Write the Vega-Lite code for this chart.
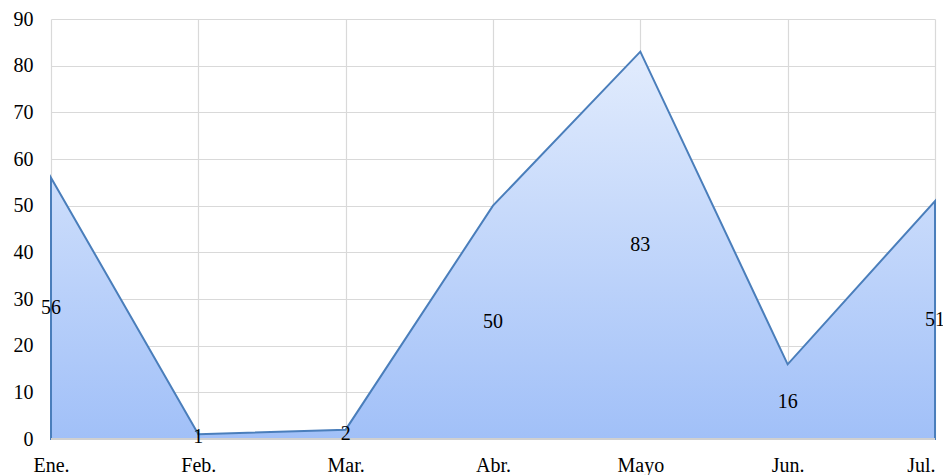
{
  "$schema": "https://vega.github.io/schema/vega-lite/v6.json",
  "autosize": "none",
  "width": 884,
  "height": 420,
  "padding": {"left": 51, "top": 19, "right": 8, "bottom": 36},
  "background": "white",
  "config": {
    "view": {"stroke": null},
    "font": "Times New Roman, Liberation Serif, serif",
    "axis": {"labelFont": "Times New Roman, Liberation Serif, serif", "labelFontSize": 20, "labelColor": "#000000", "gridColor": "#d9d9d9", "gridWidth": 1.2, "labelOverlap": false}
  },
  "data": {"values": [
    {"month": "Ene.", "value": 56},
    {"month": "Feb.", "value": 1},
    {"month": "Mar.", "value": 2},
    {"month": "Abr.", "value": 50},
    {"month": "Mayo", "value": 83},
    {"month": "Jun.", "value": 16},
    {"month": "Jul.", "value": 51}
  ]},
  "layer": [
    {
      "mark": {
        "type": "area",
        "stroke": "#4a7ebb",
        "strokeWidth": 2,
        "fill": {
          "gradient": "linear", "x1": 0, "y1": 0, "x2": 0, "y2": 1,
          "stops": [{"offset": 0, "color": "#e2ecfd"}, {"offset": 1, "color": "#a1c0f8"}]
        }
      },
      "encoding": {
        "x": {"field": "month", "type": "ordinal", "sort": null,
              "scale": {"type": "point", "padding": 0},
              "axis": {"title": null, "domain": false, "ticks": false, "labelAngle": 0, "labelPadding": 16, "grid": true,
                       "labelAlign": {"expr": "datum.index == 1 ? 'right' : 'center'"}}},
        "y": {"field": "value", "type": "quantitative",
              "scale": {"domain": [0, 90], "nice": false},
              "axis": {"title": null, "domain": false, "ticks": false, "values": [0,10,20,30,40,50,60,70,80,90], "labelPadding": 18, "grid": true}}
      }
    },
    {
      "mark": {"type": "rule", "color": "#d0d0d0", "strokeWidth": 2},
      "encoding": {"y": {"datum": 0, "type": "quantitative",
              "axis": {"title": null, "domain": false, "ticks": false, "values": [0,10,20,30,40,50,60,70,80,90], "labelPadding": 18, "grid": true}}}
    },
    {
      "transform": [{"calculate": "datum.value / 2", "as": "mid"}],
      "mark": {"type": "text", "font": "Times New Roman, Liberation Serif, serif", "fontSize": 20, "color": "#000000", "baseline": "middle", "align": "center"},
      "encoding": {
        "x": {"field": "month", "type": "ordinal", "sort": null},
        "y": {"field": "mid", "type": "quantitative",
              "axis": {"title": null, "domain": false, "ticks": false, "values": [0,10,20,30,40,50,60,70,80,90], "labelPadding": 18, "grid": true}},
        "text": {"field": "value", "type": "quantitative"}
      }
    }
  ]
}
